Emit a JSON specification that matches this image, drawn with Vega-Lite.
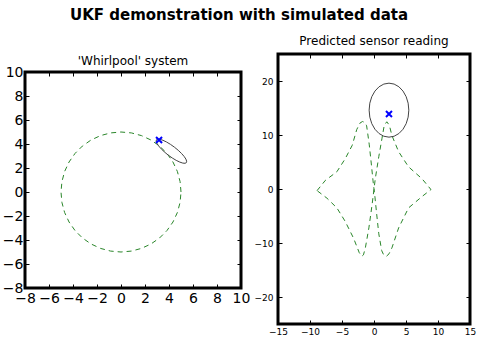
{
  "$schema": "https://vega.github.io/schema/vega-lite/v6.json",
  "title": {"text": "UKF demonstration with simulated data", "fontSize": 15, "fontWeight": "bold", "font": "DejaVu Sans", "color": "black", "anchor": "middle", "offset": 10},
  "padding": {"left": 0, "top": 8, "right": 8, "bottom": 4},
  "spacing": 0,
  "datasets": {
    "circle": [
      {"i":0,"x":5,"y":0},{"i":1,"x":4.924,"y":0.868},{"i":2,"x":4.698,"y":1.71},{"i":3,"x":4.33,"y":2.5},{"i":4,"x":3.83,"y":3.214},{"i":5,"x":3.214,"y":3.83},{"i":6,"x":2.5,"y":4.33},{"i":7,"x":1.71,"y":4.698},{"i":8,"x":0.868,"y":4.924},{"i":9,"x":0,"y":5},
      {"i":10,"x":-0.868,"y":4.924},{"i":11,"x":-1.71,"y":4.698},{"i":12,"x":-2.5,"y":4.33},{"i":13,"x":-3.214,"y":3.83},{"i":14,"x":-3.83,"y":3.214},{"i":15,"x":-4.33,"y":2.5},{"i":16,"x":-4.698,"y":1.71},{"i":17,"x":-4.924,"y":0.868},{"i":18,"x":-5,"y":0},
      {"i":19,"x":-4.924,"y":-0.868},{"i":20,"x":-4.698,"y":-1.71},{"i":21,"x":-4.33,"y":-2.5},{"i":22,"x":-3.83,"y":-3.214},{"i":23,"x":-3.214,"y":-3.83},{"i":24,"x":-2.5,"y":-4.33},{"i":25,"x":-1.71,"y":-4.698},{"i":26,"x":-0.868,"y":-4.924},{"i":27,"x":0,"y":-5},
      {"i":28,"x":0.868,"y":-4.924},{"i":29,"x":1.71,"y":-4.698},{"i":30,"x":2.5,"y":-4.33},{"i":31,"x":3.214,"y":-3.83},{"i":32,"x":3.83,"y":-3.214},{"i":33,"x":4.33,"y":-2.5},{"i":34,"x":4.698,"y":-1.71},{"i":35,"x":4.924,"y":-0.868},{"i":36,"x":5,"y":0}
    ],
    "ell1": [
      {"i":0,"x":5.447,"y":2.447},{"i":1,"x":5.471,"y":2.565},{"i":2,"x":5.408,"y":2.742},{"i":3,"x":5.262,"y":2.961},{"i":4,"x":5.045,"y":3.211},{"i":5,"x":4.769,"y":3.475},{"i":6,"x":4.455,"y":3.733},{"i":7,"x":4.123,"y":3.969},{"i":8,"x":3.797,"y":4.165},{"i":9,"x":3.498,"y":4.309},{"i":10,"x":3.248,"y":4.392},{"i":11,"x":3.061,"y":4.407},{"i":12,"x":2.953,"y":4.353},
      {"i":13,"x":2.929,"y":4.235},{"i":14,"x":2.992,"y":4.058},{"i":15,"x":3.138,"y":3.839},{"i":16,"x":3.355,"y":3.589},{"i":17,"x":3.631,"y":3.325},{"i":18,"x":3.945,"y":3.067},{"i":19,"x":4.277,"y":2.831},{"i":20,"x":4.603,"y":2.635},{"i":21,"x":4.902,"y":2.491},{"i":22,"x":5.152,"y":2.408},{"i":23,"x":5.339,"y":2.393},{"i":24,"x":5.447,"y":2.447}
    ],
    "m1": [{"x":3.17,"y":4.33}],
    "star": [
      {"i":1,"x":-8.9,"y":-0.3},{"i":2,"x":-7.6,"y":1.6},{"i":3,"x":-5.8,"y":3.2},{"i":4,"x":-4.5,"y":5.6},{"i":5,"x":-3.4,"y":8.1},{"i":6,"x":-2.7,"y":11.0},{"i":7,"x":-2.2,"y":12.2},{"i":8,"x":-1.8,"y":12.5},{"i":9,"x":-1.4,"y":12.3},{"i":10,"x":-1.15,"y":11.7},
      {"i":11,"x":-0.75,"y":8.3},{"i":12,"x":-0.45,"y":5.0},{"i":13,"x":-0.15,"y":1.5},{"i":14,"x":0.15,"y":-1.5},{"i":15,"x":0.45,"y":-5.0},{"i":16,"x":0.75,"y":-8.3},{"i":17,"x":1.2,"y":-11.4},{"i":18,"x":1.55,"y":-12.3},{"i":19,"x":1.95,"y":-12.45},{"i":20,"x":2.35,"y":-12.0},
      {"i":21,"x":2.8,"y":-10.9},{"i":22,"x":3.85,"y":-7.2},{"i":23,"x":5.4,"y":-3.5},{"i":24,"x":7.5,"y":-1.4},{"i":25,"x":8.9,"y":-0.1},{"i":26,"x":7.5,"y":1.9},{"i":27,"x":5.4,"y":4.1},{"i":28,"x":3.85,"y":6.9},{"i":29,"x":2.8,"y":9.9},{"i":30,"x":2.4,"y":11.8},
      {"i":31,"x":2.0,"y":12.45},{"i":32,"x":1.6,"y":11.8},{"i":33,"x":1.25,"y":9.4},{"i":34,"x":0.75,"y":6.0},{"i":35,"x":0.2,"y":1.9},{"i":36,"x":-0.3,"y":-2.9},{"i":37,"x":-0.8,"y":-7.2},{"i":38,"x":-1.35,"y":-10.9},{"i":39,"x":-1.65,"y":-12.2},{"i":40,"x":-1.9,"y":-12.45},
      {"i":41,"x":-2.3,"y":-11.8},{"i":42,"x":-3.2,"y":-9.1},{"i":43,"x":-4.5,"y":-6.0},{"i":44,"x":-5.8,"y":-3.5},{"i":45,"x":-7.35,"y":-1.7},{"i":46,"x":-8.9,"y":-0.3}
    ],
    "ell2": [
      {"i":0,"x":5.44,"y":14.6},{"i":1,"x":5.335,"y":15.894},{"i":2,"x":5.025,"y":17.1},{"i":3,"x":4.532,"y":18.136},{"i":4,"x":3.89,"y":18.93},{"i":5,"x":3.143,"y":19.43},{"i":6,"x":2.34,"y":19.6},{"i":7,"x":1.537,"y":19.43},{"i":8,"x":0.79,"y":18.93},{"i":9,"x":0.148,"y":18.136},{"i":10,"x":-0.345,"y":17.1},{"i":11,"x":-0.655,"y":15.894},{"i":12,"x":-0.76,"y":14.6},
      {"i":13,"x":-0.655,"y":13.306},{"i":14,"x":-0.345,"y":12.1},{"i":15,"x":0.148,"y":11.064},{"i":16,"x":0.79,"y":10.27},{"i":17,"x":1.537,"y":9.77},{"i":18,"x":2.34,"y":9.6},{"i":19,"x":3.143,"y":9.77},{"i":20,"x":3.89,"y":10.27},{"i":21,"x":4.532,"y":11.064},{"i":22,"x":5.025,"y":12.1},{"i":23,"x":5.335,"y":13.306},{"i":24,"x":5.44,"y":14.6}
    ],
    "m2": [{"x":2.34,"y":13.9}]
  },
  "hconcat": [
    {
      "spacing": -2,
      "vconcat": [
        {
          "width": 216,
          "height": 1,
          "view": {"stroke": null},
          "data": {"values": []},
          "mark": "point"
        },
        {
          "width": 216,
          "height": 216,
          "title": {"text": "'Whirlpool' system", "offset": -3},
          "resolve": {"axis": {"x": "independent", "y": "independent"}},
          "layer": [
            {
              "data": {"name": "circle"},
              "mark": {"type": "line", "color": "#2a862a", "strokeWidth": 1, "strokeDash": [5, 4]},
              "encoding": {
                "x": {"field": "x", "type": "quantitative", "title": null, "scale": {"domain": [-8, 10], "nice": false, "zero": false}, "axis": {"orient": "bottom", "values": [-8,-6,-4,-2,0,2,4,6,8,10], "labelFontSize": 14, "labelPadding": 7}},
                "y": {"field": "y", "type": "quantitative", "title": null, "scale": {"domain": [-8, 10], "nice": false, "zero": false}, "axis": {"orient": "left", "values": [-8,-6,-4,-2,0,2,4,6,8,10], "labelFontSize": 14, "labelPadding": 6}},
                "order": {"field": "i", "type": "quantitative"}
              }
            },
            {
              "data": {"name": "ell1"},
              "mark": {"type": "line", "color": "#444444", "strokeWidth": 1},
              "encoding": {
                "x": {"field": "x", "type": "quantitative", "title": null, "axis": {"orient": "top", "values": [-8,-6,-4,-2,0,2,4,6,8,10], "labels": false}},
                "y": {"field": "y", "type": "quantitative", "title": null, "axis": {"orient": "right", "values": [-8,-6,-4,-2,0,2,4,6,8,10], "labels": false}},
                "order": {"field": "i", "type": "quantitative"}
              }
            },
            {
              "data": {"name": "m1"},
              "mark": {"type": "point", "shape": "M-1,-1L1,1M-1,1L1,-1", "filled": false, "color": "#0000ff", "strokeWidth": 2, "size": 36, "opacity": 1},
              "encoding": {
                "x": {"field": "x", "type": "quantitative", "axis": null},
                "y": {"field": "y", "type": "quantitative", "axis": null}
              }
            }
          ]
        }
      ]
    },
    {
      "width": 192,
      "height": 270,
      "title": {"text": "Predicted sensor reading", "offset": 6},
      "resolve": {"axis": {"x": "independent", "y": "independent"}},
      "layer": [
        {
          "data": {"name": "star"},
          "mark": {"type": "line", "color": "#2a862a", "strokeWidth": 1, "strokeDash": [5, 4]},
          "encoding": {
            "x": {"field": "x", "type": "quantitative", "title": null, "scale": {"domain": [-15, 15], "nice": false, "zero": false}, "axis": {"orient": "bottom", "values": [-15,-10,-5,0,5,10,15], "labelFontSize": 9, "labelPadding": 7}},
            "y": {"field": "y", "type": "quantitative", "title": null, "scale": {"domain": [-25, 25], "nice": false, "zero": false}, "axis": {"orient": "left", "values": [-20,-10,0,10,20], "labelFontSize": 9, "labelPadding": 9}},
            "order": {"field": "i", "type": "quantitative"}
          }
        },
        {
          "data": {"name": "ell2"},
          "mark": {"type": "line", "color": "#444444", "strokeWidth": 1},
          "encoding": {
            "x": {"field": "x", "type": "quantitative", "title": null, "axis": {"orient": "top", "values": [-15,-10,-5,0,5,10,15], "labels": false}},
            "y": {"field": "y", "type": "quantitative", "title": null, "axis": {"orient": "right", "values": [-20,-10,0,10,20], "labels": false}},
            "order": {"field": "i", "type": "quantitative"}
          }
        },
        {
          "data": {"name": "m2"},
          "mark": {"type": "point", "shape": "M-1,-1L1,1M-1,1L1,-1", "filled": false, "color": "#0000ff", "strokeWidth": 2, "size": 36, "opacity": 1},
          "encoding": {
            "x": {"field": "x", "type": "quantitative", "axis": null},
            "y": {"field": "y", "type": "quantitative", "axis": null}
          }
        }
      ]
    }
  ],
  "config": {
    "view": {"stroke": "black", "strokeWidth": 3},
    "axis": {"domain": false, "grid": false, "tickColor": "black", "tickSize": -4, "labelColor": "black", "labelFont": "DejaVu Sans", "labelOverlap": false, "labelFlush": false},
    "title": {"font": "DejaVu Sans", "fontWeight": "normal", "fontSize": 12, "color": "black"}
  }
}
